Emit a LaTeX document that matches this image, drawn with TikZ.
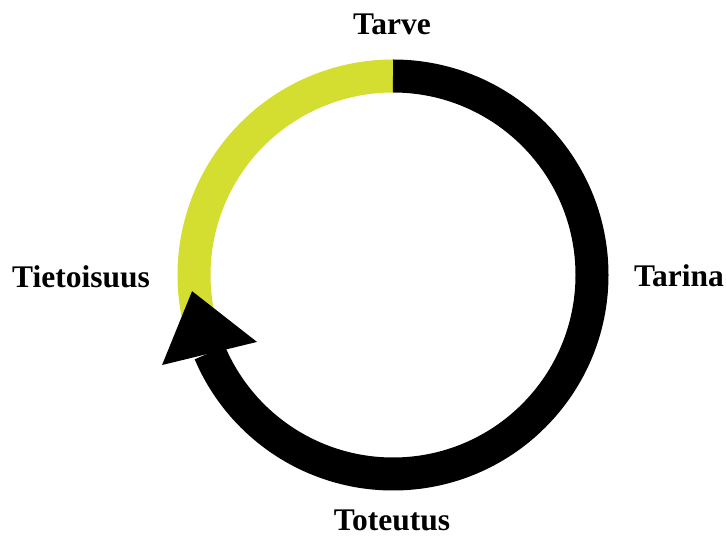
\documentclass[tikz,border=0pt]{standalone}
\usepackage{fontspec}
\setmainfont{Liberation Serif}
\definecolor{cycleyellow}{RGB}{212,222,48}
\begin{document}
\begin{tikzpicture}[x=1pt,y=1pt,
  lbl/.style={font=\fontsize{31.5}{36}\selectfont\bfseries, anchor=base, inner sep=0pt, text depth=0pt},
  ring/.style={line width=33pt, line cap=butt}]
\useasboundingbox (0,0) rectangle (726,538);
\begin{scope}[shift={(393,263)}]
  \coordinate (c) at (0,0);
  % yellow arc
  \draw[ring, cycleyellow] (90:199) arc[start angle=90, end angle=196, radius=199];
  % black arc
  \draw[ring, black] (90:199) arc[start angle=90, end angle=-157, radius=199];
  % arrowhead
  \fill[black] (184.6:201.6) -- (201.3:247.9) -- (206.2:151.6) -- cycle;
\end{scope}
\node[lbl] (tarve) at (392,503) {Tarve};
\node[lbl] (tietoisuus) at (81,250) {Tietoisuus};
\node[lbl] (tarina) at (679,251) {Tarina};
\node[lbl] (toteutus) at (392,7) {Toteutus};
\end{tikzpicture}
\end{document}
